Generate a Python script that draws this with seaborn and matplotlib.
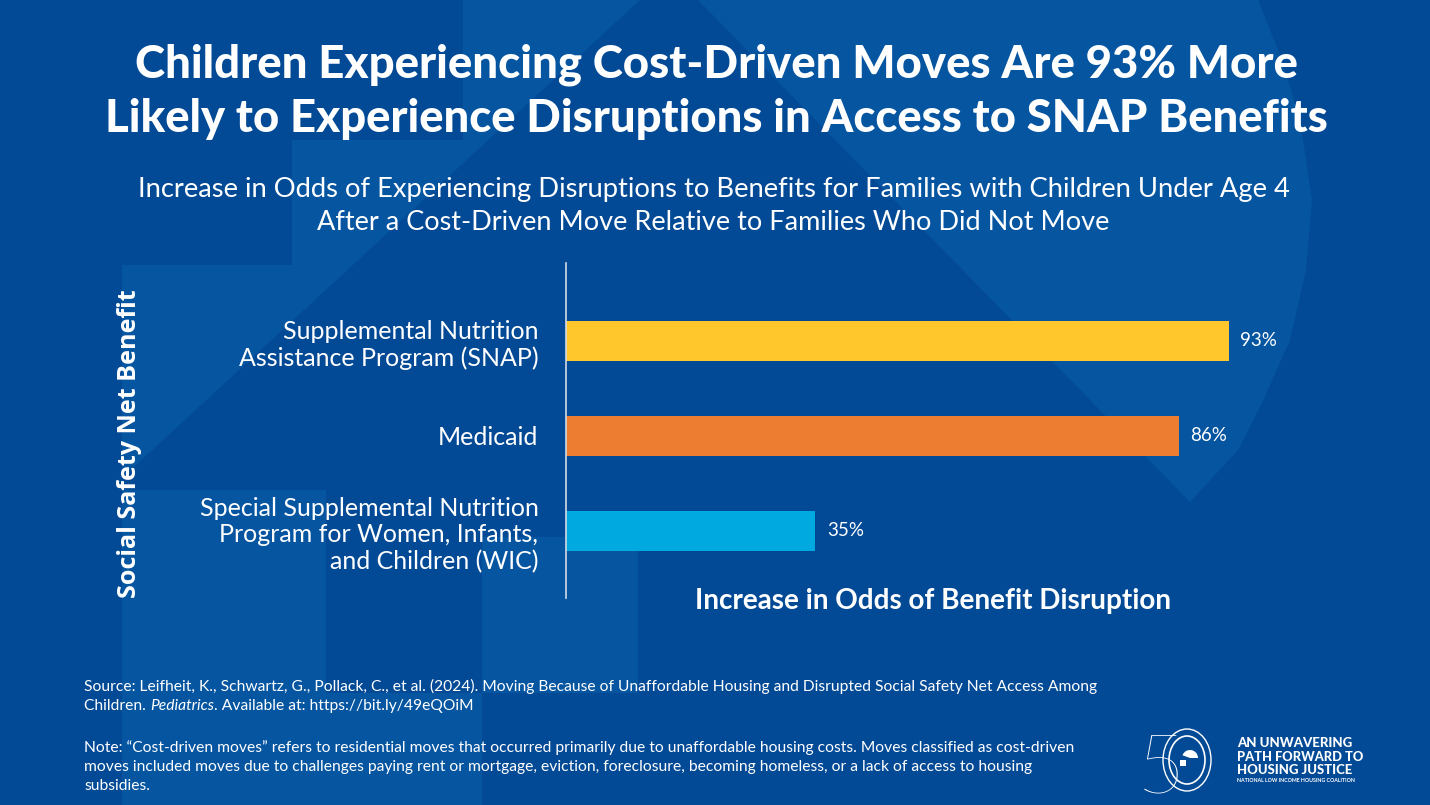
import matplotlib
matplotlib.use("Agg")
import matplotlib.pyplot as plt
import seaborn as sns
import pandas as pd
from matplotlib.patches import Polygon, Rectangle, Ellipse, Wedge

# ---------------- data ----------------
categories = [
    "Supplemental Nutrition\nAssistance Program (SNAP)",
    "Medicaid",
    "Special Supplemental Nutrition\nProgram for Women, Infants,\nand Children (WIC)",
]
values = [93, 86, 35]
bar_colors = ["#FFC72C", "#ED7D31", "#00A9E0"]

title_lines = [
    "Children Experiencing Cost-Driven Moves Are 93% More",
    "Likely to Experience Disruptions in Access to SNAP Benefits",
]
subtitle_lines = [
    "Increase in Odds of Experiencing Disruptions to Benefits for Families with Children Under Age 4",
    "After a Cost-Driven Move Relative to Families Who Did Not Move",
]
x_label = "Increase in Odds of Benefit Disruption"
y_label = "Social Safety Net Benefit"
source_line1 = ("Source: Leifheit, K., Schwartz, G., Pollack, C., et al. (2024). Moving Because of "
                "Unaffordable Housing and Disrupted Social Safety Net Access Among")
source_line2_parts = ["Children. ", "Pediatrics", ". Available at: https://bit.ly/49eQOiM"]
note_lines = [
    "Note: \u201cCost-driven moves\u201d refers to residential moves that occurred primarily due to "
    "unaffordable housing costs. Moves classified as cost-driven",
    "moves included moves due to challenges paying rent or mortgage, eviction, foreclosure, "
    "becoming homeless, or a lack of access to housing",
    "subsidies.",
]
logo_lines = ["AN UNWAVERING", "PATH FORWARD TO", "HOUSING JUSTICE"]
logo_small = "NATIONAL LOW INCOME HOUSING COALITION"

# ---------------- style ----------------
W, H = 1430, 805
BG = "#034a96"
BG_LIGHT = "#0555a1"
WHITE = "white"

sns.set_theme(style="white")
plt.rcParams["font.family"] = ["Lato", "DejaVu Sans"]

fig = plt.figure(figsize=(W / 100, H / 100), dpi=100)
fig.patch.set_facecolor(BG)
r = fig.canvas.get_renderer()

# decorative background (pixel coordinates, y downward)
bg = fig.add_axes([0, 0, 1, 1], zorder=-10)
bg.set_xlim(0, W)
bg.set_ylim(H, 0)
bg.axis("off")
bg.add_patch(Rectangle((0, 0), W, H, color=BG, lw=0))
left_shape = [(463, 0), (640, 0), (122, 478), (122, 265), (292, 265), (292, 140), (463, 140)]
right_shape = [(698, 0), (1258, 0), (1282, 60), (1300, 120), (1312, 200), (1306, 270),
               (1290, 340), (1262, 403), (1238, 450), (1190, 502)]
bg.add_patch(Polygon(left_shape, closed=True, color=BG_LIGHT, lw=0))
bg.add_patch(Polygon(right_shape, closed=True, color=BG_LIGHT, lw=0))
bg.add_patch(Rectangle((122, 490), 204, 315, color=BG_LIGHT, lw=0))
bg.add_patch(Rectangle((482, 537), 156, 156, color=BG_LIGHT, lw=0))
bg.add_patch(Rectangle((326, 693), 156, 112, color=BG_LIGHT, lw=0))

# ---------------- chart ----------------
ax = fig.add_axes([565.5 / W, 1 - 598 / H, 713 / W, 335 / H])
ax.set_facecolor("none")
df = pd.DataFrame({"benefit": categories, "value": values})
sns.barplot(data=df, x="value", y="benefit", hue="benefit", palette=bar_colors,
            width=0.42, saturation=1, legend=False, linewidth=0, ax=ax)
ax.set_xlim(0, 100)
ax.set_ylim(2.705, -0.82)
for s in ["top", "right", "bottom"]:
    ax.spines[s].set_visible(False)
ax.spines["left"].set_color("#d5dbe6")
ax.spines["left"].set_linewidth(1.2)
ax.set_xticks([])
ax.set_xlabel("")
ax.set_ylabel("")
ax.tick_params(axis="y", length=0, pad=19.5, labelsize=18, labelcolor=WHITE)
for t in ax.get_yticklabels():
    t.set_linespacing(1.18)
    t.set_fontweight("normal")

for c in ax.containers:
    ax.bar_label(c, fmt="{:.0f}%", padding=8.5, color=WHITE, fontsize=13.5, fontweight="normal")


# ---------------- text helpers ----------------
def fit_text(x, y, s, target_w, size, **kw):
    t = fig.text(x / W, 1 - y / H, s, fontsize=size, color=WHITE, **kw)
    w = t.get_window_extent(renderer=r).width
    t.set_fontsize(size * target_w / w)
    return t


# titles
fit_text(716, 78, title_lines[0], 1162, 33, ha="center", va="baseline", fontweight="black")
fit_text(716, 132, title_lines[1], 1223, 33, ha="center", va="baseline", fontweight="black")
fit_text(714, 197, subtitle_lines[0], 1149, 18, ha="center", va="baseline", fontweight="normal")
fit_text(713, 230, subtitle_lines[1], 790, 18, ha="center", va="baseline", fontweight="normal")

# axis titles
fit_text(933, 601, x_label, 477, 18, ha="center", va="center", fontweight="bold")
ty = fig.text(130 / W, 1 - 444 / H, y_label, rotation=90, ha="center", va="center",
              color=WHITE, fontsize=17, fontweight="bold", family=["Open Sans", "DejaVu Sans"])
hgt = ty.get_window_extent(renderer=r).height
ty.set_fontsize(17 * 308 / hgt)

# source and note
src = fit_text(84, 691, source_line1, 1014, 11, ha="left", va="baseline", fontweight="normal")
fs = src.get_fontsize()
x = 84
for i, part in enumerate(source_line2_parts):
    t = fig.text(x / W, 1 - 710 / H, part, fontsize=fs, color=WHITE, ha="left", va="baseline",
                 fontweight="normal", style="italic" if i == 1 else "normal")
    x += t.get_window_extent(renderer=r).width
for i, line in enumerate(note_lines):
    fig.text(84 / W, 1 - (752 + 19 * i) / H, line, fontsize=fs, color=WHITE, ha="left",
             va="baseline", fontweight="normal")

# logo
lg = fig.add_axes([0, 0, 1, 1], zorder=5)
lg.set_xlim(0, W)
lg.set_ylim(H, 0)
lg.axis("off")
lg.text(1137, 792, "5", fontsize=60, color=WHITE, fontweight=100, ha="left", va="baseline")
lg.add_patch(Ellipse((1187, 760), 48, 62, fill=False, ec=WHITE, lw=1.0))
lg.add_patch(Ellipse((1187, 760), 36, 48, fill=False, ec=WHITE, lw=1.2))
lg.add_patch(Wedge((1190, 758), 8, 200, 360, color=WHITE, lw=0))
lg.add_patch(Rectangle((1180, 760), 6, 6, color=WHITE, lw=0))
for i, line in enumerate(logo_lines):
    fit_text(1237, 747 + 13.5 * i, line, 116 if i != 1 else 126, 9, ha="left", va="baseline",
             fontweight="black")
fit_text(1237, 782, logo_small, 118, 4, ha="left", va="baseline", fontweight="bold")

fig.savefig("out.png", dpi=100, facecolor=BG)
